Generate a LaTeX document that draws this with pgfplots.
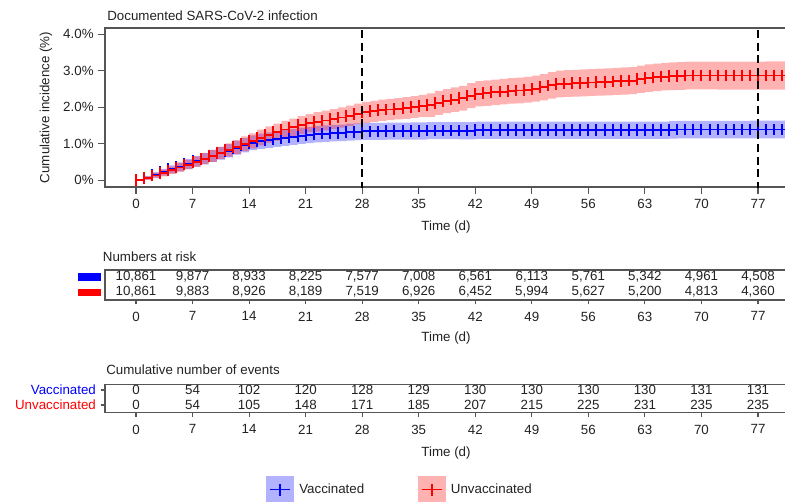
\documentclass[border=0pt]{standalone}
\usepackage{pgfplots}
\usepackage{pgfplotstable}
\pgfplotsset{compat=1.18}
\usepgfplotslibrary{fillbetween}
\usepackage{fontspec}
\setmainfont{Liberation Sans}
\definecolor{axgray}{HTML}{555555}
\definecolor{txt}{HTML}{222222}
\definecolor{vblue}{HTML}{0000FF}
\definecolor{ured}{HTML}{FF0000}

% t = day, y = cumulative incidence (%), h = half width of the confidence band (%)
\pgfplotstableread{
t y h
0 0 0
1 0.07 0.053
2 0.15 0.077
3 0.22 0.094
4 0.30 0.110
5 0.37 0.122
6 0.45 0.134
7 0.52 0.144
8 0.59 0.154
9 0.67 0.164
10 0.74 0.172
11 0.81 0.180
12 0.89 0.189
13 0.96 0.196
14 1.03 0.203
15 1.07 0.207
16 1.10 0.210
17 1.13 0.213
18 1.16 0.215
19 1.19 0.218
20 1.22 0.221
21 1.24 0.223
22 1.26 0.224
23 1.28 0.226
24 1.29 0.227
25 1.30 0.228
26 1.32 0.230
27 1.33 0.231
28 1.34 0.232
29 1.34 0.232
30 1.34 0.233
31 1.35 0.233
32 1.35 0.233
33 1.35 0.233
34 1.35 0.234
35 1.35 0.234
36 1.36 0.235
37 1.36 0.235
38 1.36 0.235
39 1.36 0.235
40 1.36 0.236
41 1.36 0.236
42 1.37 0.236
43 1.37 0.236
44 1.37 0.236
45 1.37 0.236
46 1.37 0.236
47 1.37 0.236
48 1.37 0.236
49 1.37 0.236
50 1.37 0.236
51 1.37 0.236
52 1.37 0.236
53 1.37 0.237
54 1.37 0.237
55 1.37 0.237
56 1.37 0.237
57 1.37 0.237
58 1.37 0.237
59 1.37 0.237
60 1.37 0.237
61 1.37 0.237
62 1.37 0.237
63 1.37 0.237
64 1.37 0.237
65 1.37 0.237
66 1.38 0.238
67 1.39 0.240
68 1.39 0.240
69 1.39 0.240
70 1.39 0.240
71 1.39 0.241
72 1.39 0.241
73 1.39 0.241
74 1.39 0.241
75 1.39 0.241
76 1.39 0.242
77 1.39 0.242
78 1.39 0.242
79 1.39 0.242
80 1.39 0.242
81 1.39 0.242
82 1.39 0.242
}\blueKM

\pgfplotstableread{
t y h
0 0 0
1 0.06 0.050
2 0.13 0.073
3 0.20 0.090
4 0.27 0.104
5 0.35 0.118
6 0.43 0.131
7 0.51 0.143
8 0.59 0.154
9 0.67 0.164
10 0.75 0.173
11 0.83 0.182
12 0.91 0.191
13 1.00 0.200
14 1.08 0.208
15 1.17 0.216
16 1.25 0.224
17 1.32 0.230
18 1.39 0.236
19 1.45 0.241
20 1.51 0.246
21 1.56 0.250
22 1.60 0.266
23 1.64 0.269
24 1.68 0.272
25 1.72 0.275
26 1.77 0.279
27 1.82 0.283
28 1.86 0.286
29 1.89 0.289
30 1.92 0.291
31 1.94 0.293
32 1.96 0.294
33 1.98 0.296
34 2.01 0.298
35 2.04 0.300
36 2.06 0.323
37 2.12 0.328
38 2.17 0.331
39 2.21 0.335
40 2.25 0.338
41 2.32 0.343
42 2.37 0.346
43 2.39 0.348
44 2.41 0.349
45 2.43 0.351
46 2.45 0.352
47 2.46 0.353
48 2.48 0.354
49 2.51 0.356
50 2.55 0.359
51 2.60 0.363
52 2.64 0.366
53 2.65 0.366
54 2.66 0.367
55 2.67 0.368
56 2.68 0.368
57 2.69 0.369
58 2.70 0.370
59 2.71 0.370
60 2.72 0.371
61 2.73 0.372
62 2.77 0.374
63 2.80 0.376
64 2.82 0.378
65 2.84 0.379
66 2.85 0.380
67 2.86 0.380
68 2.87 0.381
69 2.87 0.381
70 2.87 0.382
71 2.87 0.382
72 2.87 0.383
73 2.87 0.383
74 2.87 0.384
75 2.87 0.384
76 2.87 0.385
77 2.87 0.385
78 2.87 0.386
79 2.87 0.386
80 2.87 0.387
81 2.87 0.387
82 2.87 0.388
}\redKM

\pgfplotstableread{
t r lab
0 2 10,861
7 2 9,877
14 2 8,933
21 2 8,225
28 2 7,577
35 2 7,008
42 2 6,561
49 2 6,113
56 2 5,761
63 2 5,342
70 2 4,961
77 2 4,508
}\riskV
\pgfplotstableread{
t r lab
0 1 10,861
7 1 9,883
14 1 8,926
21 1 8,189
28 1 7,519
35 1 6,926
42 1 6,452
49 1 5,994
56 1 5,627
63 1 5,200
70 1 4,813
77 1 4,360
}\riskU
\pgfplotstableread{
t r lab
0 2 0
7 2 54
14 2 102
21 2 120
28 2 128
35 2 129
42 2 130
49 2 130
56 2 130
63 2 130
70 2 131
77 2 131
}\evV
\pgfplotstableread{
t r lab
0 1 0
7 1 54
14 1 105
21 1 148
28 1 171
35 1 185
42 1 207
49 1 215
56 1 225
63 1 231
70 1 235
77 1 235
}\evU

\pgfplotsset{
  base/.style={
    scale only axis, width=511.5pt,
    xmin=-3.838, xmax=80.59,
    xtick={0,7,...,77},
    axis line style={draw=axgray, line width=0.8pt},
    every tick/.style={draw=axgray, line width=0.8pt},
    tick align=outside,
    xtick pos=left, ytick pos=left,
    every axis title shift=0pt,
    /pgf/number format/assume math mode=true,
    tick label style={font=\fontsize{10}{12}\selectfont, text=txt},
    label style={font=\fontsize{10}{12}\selectfont, text=txt},
    title style={font=\fontsize{10}{12}\selectfont, text=txt},
  },
  tab/.style={
    draw=none, mark=none, nodes near coords,
    point meta=explicit symbolic,
    every node near coord/.append style={font=\fontsize{10}{12}\selectfont, text=txt, inner sep=0pt, anchor=center},
  },
  blueline/.style={const plot, draw=vblue, line width=1.4pt, mark=none},
  redline/.style={const plot, draw=ured, line width=1.4pt, mark=none},
  % censoring ticks drawn as short vertical error bars through each daily point
  ticks/.style={draw=none, mark=none, forget plot,
    error bars/.cd, y dir=both, y fixed=0.16, error mark=none,
    error bar style={draw=#1, line width=1.5pt}},
}

\begin{document}
\begin{tikzpicture}

% ---------------- main Kaplan-Meier axis ----------------
\begin{axis}[base, at={(78.75pt,235.5pt)}, anchor=south west, height=119.25pt,
  ymin=-0.184, ymax=4.173, ytick={0,1,2,3,4},
  yticklabels={0\%,1.0\%,2.0\%,3.0\%,4.0\%},
  major tick length=5pt,
  xticklabel style={yshift=-0.5pt},
  title={Documented SARS-CoV-2 infection},
  title style={at={(axis description cs:0.003,1.077)}, anchor=west, inner sep=0pt},
  xlabel={Time (d)},
  xlabel style={at={(axis description cs:0.5,-0.252)}, anchor=center, inner sep=0pt},
  ylabel={Cumulative incidence (\%)},
  ylabel style={at={(axis description cs:-0.0865,0.5)}, anchor=center, inner sep=0pt},
  legend columns=2,
  legend style={at={(axis description cs:0.2356,-1.9025)}, anchor=west, draw=none, fill=none,
    inner sep=0pt, font=\fontsize{10}{12}\selectfont, text=txt,
    nodes={inner xsep=4pt, inner ysep=0pt},
    /tikz/every even column/.append style={column sep=36pt}},
]
\addplot[const plot, draw=none, name path=bu, forget plot] table[x=t, y expr=\thisrow{y}+\thisrow{h}] {\blueKM};
\addplot[const plot, draw=none, name path=bl, forget plot] table[x=t, y expr=\thisrow{y}-\thisrow{h}] {\blueKM};
\addplot[fill=vblue, fill opacity=0.3, draw=none, forget plot] fill between[of=bu and bl];
\addplot[const plot, draw=none, name path=ru, forget plot] table[x=t, y expr=\thisrow{y}+\thisrow{h}] {\redKM};
\addplot[const plot, draw=none, name path=rl, forget plot] table[x=t, y expr=\thisrow{y}-\thisrow{h}] {\redKM};
\addplot[fill=ured, fill opacity=0.3, draw=none, forget plot] fill between[of=ru and rl];

\addplot[blueline,
  legend image code/.code={
    \path[fill=vblue, fill opacity=0.3, draw=none] (0pt,-10pt) rectangle (21pt,10pt);
    \path[draw=vblue, line width=1.4pt] (3pt,0pt) -- (18pt,0pt) (10.5pt,-4.5pt) -- (10.5pt,4.5pt);
  }] table[x=t, y=y] {\blueKM};
\addlegendentry{Vaccinated}
\addplot[ticks=vblue] table[x=t, y=y] {\blueKM};

\addplot[redline,
  legend image code/.code={
    \path[fill=ured, fill opacity=0.3, draw=none] (0pt,-10pt) rectangle (21pt,10pt);
    \path[draw=ured, line width=1.4pt] (3pt,0pt) -- (18pt,0pt) (10.5pt,-4.5pt) -- (10.5pt,4.5pt);
  }] table[x=t, y=y] {\redKM};
\addlegendentry{Unvaccinated}
\addplot[ticks=ured] table[x=t, y=y] {\redKM};

\addplot[draw=black, line width=1.2pt, dash pattern=on 6pt off 3.5pt, forget plot] coordinates {(28,4.12) (28,-0.3)};
\addplot[draw=black, line width=1.2pt, dash pattern=on 6pt off 3.5pt, forget plot] coordinates {(77,4.12) (77,-0.3)};
\end{axis}

% ---------------- numbers at risk ----------------
\begin{axis}[base, at={(78.75pt,150.75pt)}, anchor=south west, height=22.5pt,
  ymin=0.48, ymax=2.42, ytick=\empty, major tick length=3.3pt,
  xticklabel style={yshift=-2pt},
  title={Numbers at risk},
  title style={at={(axis description cs:-0.0034,1.443)}, anchor=west, inner sep=0pt},
  xlabel={Time (d)},
  xlabel style={at={(axis description cs:0.5,-1.28)}, anchor=center, inner sep=0pt},
]
\addplot[tab] table[x=t, y=r, meta=lab] {\riskV};
\addplot[tab] table[x=t, y=r, meta=lab] {\riskU};
\end{axis}
\fill[vblue] (58.5pt,165pt) rectangle (75.75pt,171pt);
\fill[ured] (58.5pt,153.75pt) rectangle (75.75pt,159pt);

% ---------------- cumulative number of events ----------------
\begin{axis}[base, at={(78.75pt,66.525pt)}, anchor=south west, height=21pt,
  ymin=0.51, ymax=2.38, ytick={1,2},
  yticklabels={\textcolor{ured}{Unvaccinated},\textcolor{vblue}{Vaccinated}},
  major tick length=3.3pt,
  xticklabel style={yshift=-2.5pt},
  title={Cumulative number of events},
  title style={at={(axis description cs:0.0015,1.51)}, anchor=west, inner sep=0pt},
  xlabel={Time (d)},
  xlabel style={at={(axis description cs:0.5,-1.47)}, anchor=center, inner sep=0pt},
]
\addplot[tab] table[x=t, y=r, meta=lab] {\evV};
\addplot[tab] table[x=t, y=r, meta=lab] {\evU};
\end{axis}

\pgfresetboundingbox
\useasboundingbox (0pt,0pt) rectangle (588.75pt,375.75pt);
\end{tikzpicture}
\end{document}
